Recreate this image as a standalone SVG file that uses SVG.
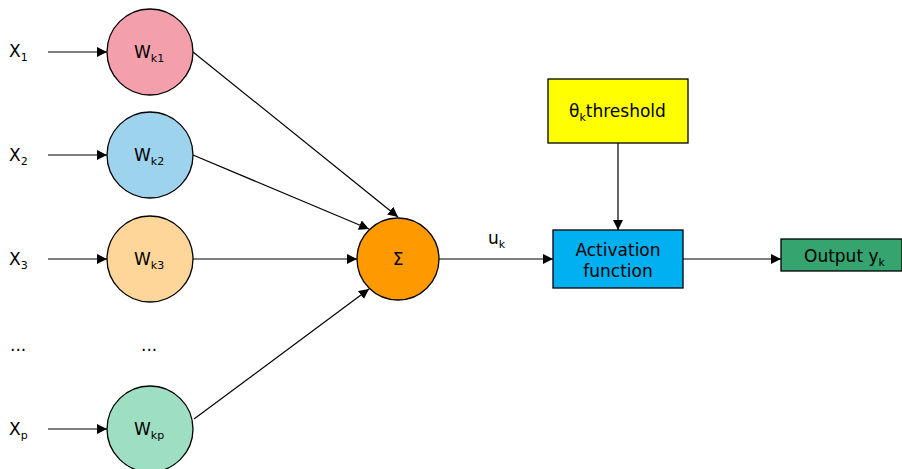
<svg xmlns="http://www.w3.org/2000/svg" width="902" height="469" viewBox="0 0 902 469">
  <defs>
    <marker id="arr" viewBox="0 0 10 10" refX="10" refY="5" markerWidth="10" markerHeight="10" markerUnits="userSpaceOnUse" orient="auto">
      <path d="M0,0 L10,5 L0,10 z" fill="#000"/>
    </marker>
    <style>
      text { font-family: "DejaVu Sans", Verdana, sans-serif; fill: #000; }
      .lbl { font-size: 17px; }
      .sub { font-size: 11px; }
      .node { stroke: #000; stroke-width: 1.3; }
      .edge { stroke: #000; stroke-width: 1.2; fill: none; marker-end: url(#arr); }
    </style>
  </defs>
  <rect width="902" height="469" fill="#fff"/>

  <!-- input labels -->
  <g id="inputs">
    <text class="lbl" x="9" y="57">X<tspan class="sub" dy="4">1</tspan></text>
    <text class="lbl" x="9" y="161">X<tspan class="sub" dy="4">2</tspan></text>
    <text class="lbl" x="9" y="265">X<tspan class="sub" dy="4">3</tspan></text>
    <text class="lbl" x="10" y="351">...</text>
    <text class="lbl" x="9" y="435">X<tspan class="sub" dy="4">p</tspan></text>
  </g>

  <!-- weight nodes -->
  <g id="wk1">
    <circle class="node" cx="150" cy="52" r="43" fill="#F4A0AC"/>
    <text class="lbl" x="134" y="58">W<tspan class="sub" dy="4">k1</tspan></text>
  </g>
  <g id="wk2">
    <circle class="node" cx="150" cy="155" r="43" fill="#9ED3EE"/>
    <text class="lbl" x="134" y="161">W<tspan class="sub" dy="4">k2</tspan></text>
  </g>
  <g id="wk3">
    <circle class="node" cx="150" cy="259" r="43" fill="#FFD699"/>
    <text class="lbl" x="134" y="265">W<tspan class="sub" dy="4">k3</tspan></text>
  </g>
  <g id="wdots">
    <text class="lbl" x="141" y="351">...</text>
  </g>
  <g id="wkp">
    <circle class="node" cx="150" cy="429" r="43" fill="#9EDFC3"/>
    <text class="lbl" x="134" y="435">W<tspan class="sub" dy="4">kp</tspan></text>
  </g>

  <!-- summation -->
  <g id="sum">
    <circle class="node" cx="398" cy="259" r="41" fill="#FF9900"/>
    <text class="lbl" x="398" y="265" text-anchor="middle">Σ</text>
  </g>

  <!-- threshold -->
  <g id="threshold">
    <rect class="node" x="548" y="79" width="140" height="64" fill="#FFFF00"/>
    <text class="lbl" x="569" y="117">θ<tspan class="sub" dy="4">k</tspan><tspan dy="-4">threshold</tspan></text>
  </g>

  <!-- activation -->
  <g id="activation">
    <rect class="node" x="553" y="230" width="130" height="58" fill="#00B0F0"/>
    <text class="lbl" x="618" y="256" text-anchor="middle">Activation</text>
    <text class="lbl" x="618" y="277" text-anchor="middle">function</text>
  </g>

  <!-- output -->
  <g id="output">
    <rect class="node" x="781" y="239" width="121" height="32" fill="#35A46F"/>
    <text class="lbl" x="804" y="262">Output y<tspan class="sub" dy="4">k</tspan></text>
  </g>

  <!-- connectors -->
  <g id="connectors">
    <line class="edge" x1="48" y1="52" x2="107" y2="52"/>
    <line class="edge" x1="48" y1="155" x2="107" y2="155"/>
    <line class="edge" x1="48" y1="259" x2="107" y2="259"/>
    <line class="edge" x1="48" y1="429" x2="107" y2="429"/>
    <line class="edge" x1="193" y1="52" x2="398" y2="217"/>
    <line class="edge" x1="193" y1="155" x2="369" y2="229"/>
    <line class="edge" x1="193" y1="259" x2="357" y2="259"/>
    <line class="edge" x1="194" y1="419" x2="369" y2="289"/>
    <line class="edge" x1="439" y1="259" x2="553" y2="259"/>
    <line class="edge" x1="618" y1="143" x2="618" y2="230"/>
    <line class="edge" x1="683" y1="259" x2="781" y2="259"/>
    <text class="lbl" x="488" y="244">u<tspan class="sub" dy="4">k</tspan></text>
  </g>
</svg>
